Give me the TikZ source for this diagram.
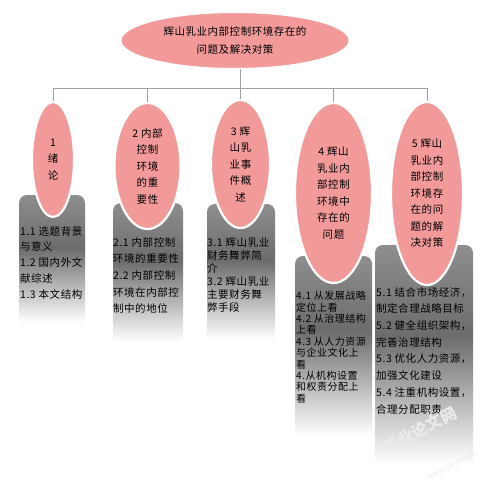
\documentclass[tikz,border=0pt]{standalone}
\usepackage{fontspec}
\setmainfont{Noto Sans CJK SC}
\usetikzlibrary{shapes.geometric}
\definecolor{pinkc}{HTML}{F29A9A}
\definecolor{linegray}{HTML}{A0A0A0}
\definecolor{shtop}{HTML}{8E8E8E}
\definecolor{shdark}{HTML}{6C6C6C}
\pgfdeclareverticalshading{grayfade}{100bp}{color(0bp)=(white); color(27bp)=(white); color(55bp)=(shdark); color(75bp)=(shtop); color(100bp)=(shtop)}
\newfontfamily\cjkls[LetterSpace=5]{Noto Sans CJK SC}
\tikzset{
  topell/.style={ellipse, fill=pinkc, draw=white, line width=1pt, minimum width=228pt, minimum height=56pt, inner sep=0pt, align=center, font=\cjkls\fontsize{10.5}{18}\selectfont},
  subell/.style={ellipse, fill=pinkc, draw=white, line width=2.2pt, inner sep=0pt, align=center, font=\cjkls\fontsize{10.5}{16.5}\selectfont},
  graybox/.style={rectangle, rounded corners=8pt, shading=grayfade, draw=none, inner sep=0pt},
  boxtext/.style={anchor=north west, inner sep=0pt, align=left},
  conn/.style={draw=linegray, line width=0.9pt},
  wmark/.style={text=gray!16, inner sep=0pt}
}
\begin{document}
\begin{tikzpicture}[x=1pt,y=-1pt]
\useasboundingbox (0,0) rectangle (495,484);
% gray boxes
\node[graybox, minimum width=66pt, minimum height=133pt] (b1) at (52,261.5) {};
\node[graybox, minimum width=70pt, minimum height=145pt] (b2) at (148,275.5) {};
\node[graybox, minimum width=68pt, minimum height=141pt] (b3) at (241,274.5) {};
\node[graybox, minimum width=77pt, minimum height=187pt] (b4) at (333.5,349.5) {};
\node[graybox, minimum width=98pt, minimum height=228pt] (b5) at (424,359) {};
% box texts
\node[boxtext, font=\cjkls\fontsize{10.5}{15.8}\selectfont] (t1) at (20,226) {1.1 选题背景\\与意义\\1.2 国内外文\\献综述\\1.3 本文结构};
\node[boxtext, font=\cjkls\fontsize{10.5}{16.7}\selectfont] (t2) at (113,237) {2.1 内部控制\\环境的重要性\\2.2 内部控制\\环境在内部控\\制中的地位};
\node[boxtext, font=\cjkls\fontsize{10.5}{13}\selectfont] (t3) at (207,237) {3.1 辉山乳业\\财务舞弊简\\介\\3.2 辉山乳业\\主要财务舞\\弊手段};
\node[boxtext, font=\cjkls\fontsize{10}{11.4}\selectfont] (t4) at (296,291) {4.1 从发展战略\\定位上看\\4.2 从治理结构\\上看\\4.3 从人力资源\\与企业文化上\\看\\4.从机构设置\\和权责分配上\\看};
\node[boxtext, font=\cjkls\fontsize{10.5}{16.7}\selectfont] (t5) at (376,287) {5.1 结合市场经济，\\制定合理战略目标\\5.2 健全组织架构，\\完善治理结构\\5.3 优化人力资源，\\加强文化建设\\5.4 注重机构设置，\\合理分配职责};
% watermark
\node[wmark, rotate=28, font=\bfseries\fontsize{16}{16}\selectfont] (wm1) at (420,430) {毕业论文网};
\node[wmark, rotate=28, font=\fontsize{8}{8}\selectfont] (wm2) at (452,465) {www.sbvv.com};
% nodes
\coordinate (hub) at (240,88);
\node[topell] (top) at (235,40.5) {辉山乳业内部控制环境存在的\\问题及解决对策};
\node[subell, minimum width=42pt, minimum height=115pt] (e1) at (53,159.5) {1\\绪\\论};
\node[subell, minimum width=66pt, minimum height=126pt] (e2) at (147.5,166) {2 内部\\控制\\环境\\的重\\要性};
\node[subell, minimum width=59pt, minimum height=128pt] (e3) at (240.5,164) {3 辉\\山乳\\业事\\件概\\述};
\node[subell, minimum width=77pt, minimum height=180pt] (e4) at (333.5,193) {4 辉山\\乳业内\\部控制\\环境中\\存在的\\问题};
\node[subell, minimum width=72pt, minimum height=183pt] (e5) at (427,193.5) {5 辉山\\乳业内\\部控制\\环境存\\在的问\\题的解\\决对策};
% connectors
\draw[conn] (top.south -| hub) -- (hub);
\draw[conn] (e1.north |- hub) -- (e5.north |- hub);
\foreach \i in {1,...,5} {\draw[conn] (e\i.north |- hub) -- (e\i.north);}
\end{tikzpicture}
\end{document}
